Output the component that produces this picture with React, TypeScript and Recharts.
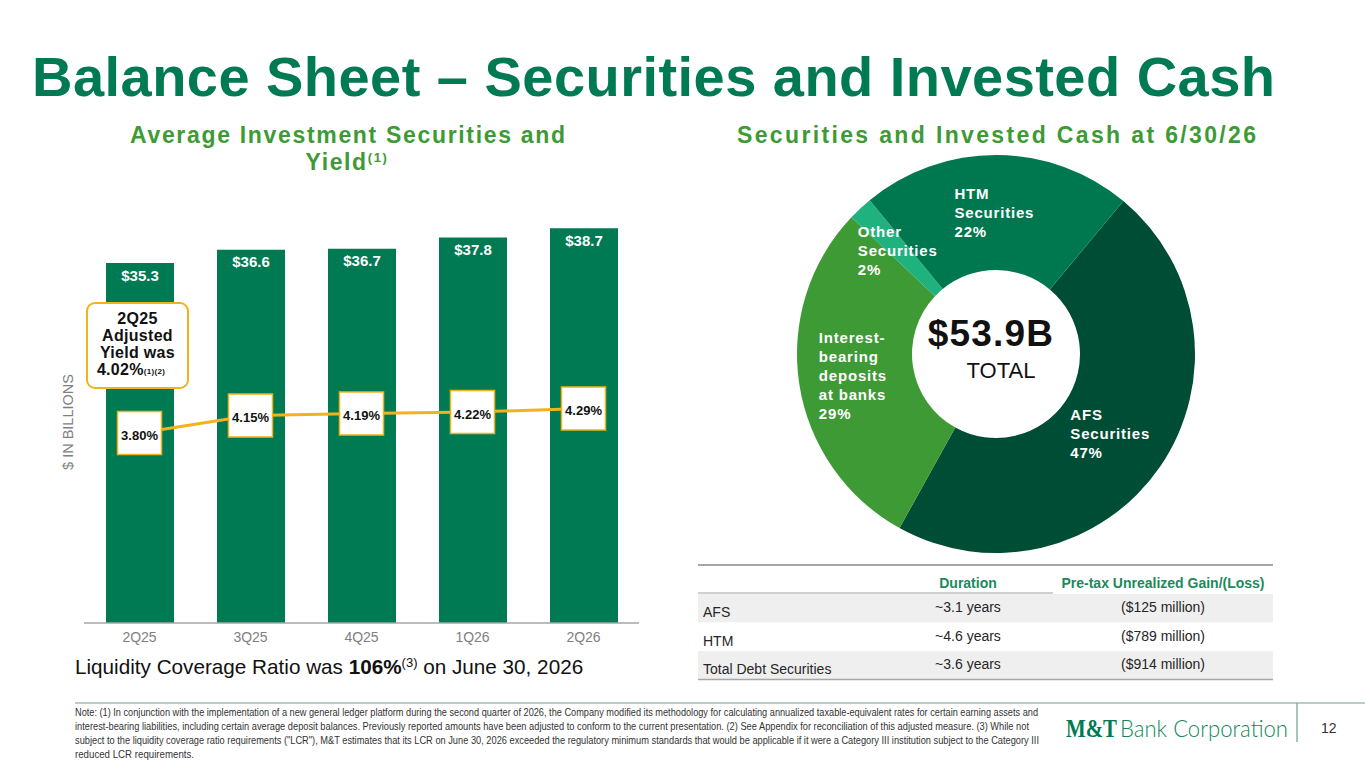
import React from 'react'
import {
  ComposedChart,
  Bar,
  Line,
  XAxis,
  YAxis,
  LabelList,
  PieChart,
  Pie,
  Cell,
} from 'recharts'

const quarters = ['2Q25', '3Q25', '4Q25', '1Q26', '2Q26']
const avgSecurities = [35.3, 36.6, 36.7, 37.8, 38.7]
const yieldPct = [3.8, 4.15, 4.19, 4.22, 4.29]

const mixNames = ['AFS Securities', 'Interest-bearing deposits at banks', 'Other Securities', 'HTM Securities']
const mixPct = [47, 29, 2, 22]
const mixLines = [['AFS', 'Securities'], ['Interest-', 'bearing', 'deposits', 'at banks'], ['Other', 'Securities'], ['HTM', 'Securities']]
const mixColors = ['#004d36', '#3e9a35', '#1fb27f', '#00784f']

const tableRows = ['AFS', 'HTM', 'Total Debt Securities']
const tableDuration = ['~3.1 years', '~4.6 years', '~3.6 years']
const tableGainLoss = ['($125 million)', '($789 million)', '($914 million)']

const footnotes = [
  'Note: (1) In conjunction with the implementation of a new general ledger platform during the second quarter of 2026, the Company modified its methodology for calculating annualized taxable-equivalent rates for certain earning assets and',
  'interest-bearing liabilities, including certain average deposit balances. Previously reported amounts have been adjusted to conform to the current presentation. (2) See Appendix for reconciliation of this adjusted measure. (3) While not',
  'subject to the liquidity coverage ratio requirements ("LCR"), M&T estimates that its LCR on June 30, 2026 exceeded the regulatory minimum standards that would be applicable if it were a Category III institution subject to the Category III',
  'reduced LCR requirements.',
]
const footnoteWidths = [963, 954, 964, 119]

const FONT = '"Liberation Sans", Arial, sans-serif'
const GREEN = '#007a53'
const SUB_GREEN = '#3e9a35'
const GOLD = '#f2b21b'
const NOTE_SQUEEZE = 0.8

const barData = quarters.map((q, i) => ({ q, value: avgSecurities[i], yld: yieldPct[i] }))
const mixData = mixNames.map((name, i) => ({ name, value: mixPct[i] }))

function YieldBox(props: any) {
  const { x, y, value } = props
  if (x == null || y == null) return null
  return (
    <g>
      <rect x={x - 22} y={y - 21.5} width={44} height={43} fill="#fff" stroke={GOLD} strokeWidth={1.5} />
      <text x={x} y={y + 6.5} textAnchor="middle" fontSize={13} fontWeight="bold" fill="#111" fontFamily={FONT}>
        {Number(value).toFixed(2)}%
      </text>
    </g>
  )
}

function MixLabel(props: any) {
  const { cx, cy, midAngle, index } = props
  const rad = Math.PI / 180
  const r = 141
  const x = cx + r * Math.cos(-midAngle * rad)
  const y = cy + r * Math.sin(-midAngle * rad)
  const lines = [...mixLines[index], `${mixPct[index]}%`]
  const w = Math.max(...lines.map(l => l.length)) * 8.4
  const lh = 19
  const top = y - ((lines.length - 1) * lh) / 2
  return (
    <text fill="#fff" fontSize={15} fontWeight="bold" letterSpacing={0.8} fontFamily={FONT}>
      {lines.map((l, i) => (
        <tspan key={i} x={x - w / 2} y={top + i * lh + 5}>{l}</tspan>
      ))}
    </text>
  )
}

export default function App() {
  return (
    <div style={{ position: 'absolute', left: 0, top: 0, width: 1365, height: 768, background: '#fff', overflow: 'hidden', fontFamily: FONT }}>
      <div style={{ position: 'absolute', left: 0, top: 0 }}>
        <ComposedChart width={700} height={680} data={barData} margin={{ top: 215, right: 61, bottom: 27, left: 84 }}>
          <XAxis
            dataKey="q"
            axisLine={{ stroke: '#a6a6a6', strokeWidth: 1.5 }}
            tickLine={false}
            tick={{ fontSize: 14, fill: '#7f7f7f', fontFamily: FONT }}
            tickMargin={3}
            height={30}
          />
          <YAxis yAxisId="left" hide domain={[0, 40]} />
          <YAxis yAxisId="right" hide orientation="right" domain={[0, 8.16]} />
          <Bar yAxisId="left" dataKey="value" fill={GREEN} barSize={68} isAnimationActive={false}>
            <LabelList
              dataKey="value"
              position="insideTop"
              offset={7}
              fill="#fff"
              fontSize={15}
              fontWeight="bold"
              fontFamily={FONT}
              formatter={(v: any) => `$${Number(v).toFixed(1)}`}
            />
          </Bar>
          <Line
            yAxisId="right"
            dataKey="yld"
            stroke={GOLD}
            strokeWidth={3}
            dot={false}
            isAnimationActive={false}
            label={<YieldBox />}
          />
        </ComposedChart>
      </div>

      <div style={{ position: 'absolute', left: 776, top: 134 }}>
        <PieChart width={440} height={440} margin={{ top: 0, right: 0, bottom: 0, left: 0 }}>
          <Pie
            data={mixData}
            dataKey="value"
            cx={220}
            cy={220}
            innerRadius={84}
            outerRadius={199}
            startAngle={50.2}
            endAngle={-309.8}
            stroke="none"
            labelLine={false}
            label={MixLabel}
            isAnimationActive={false}
          >
            {mixData.map((d, i) => (
              <Cell key={d.name} fill={mixColors[i]} />
            ))}
          </Pie>
        </PieChart>
      </div>

      <svg width={1365} height={768} style={{ position: 'absolute', left: 0, top: 0, pointerEvents: 'none' }} fontFamily={FONT}>
        {/* title */}
        <text x={32} y={96} fontSize={56} fontWeight="bold" fill={GREEN} textLength={1243} lengthAdjust="spacing">
          Balance Sheet – Securities and Invested Cash
        </text>
        <text x={130} y={143} fontSize={23} fontWeight="bold" fill={SUB_GREEN} textLength={435} lengthAdjust="spacing">
          Average Investment Securities and
        </text>
        <text x={347} y={170} fontSize={23} fontWeight="bold" fill={SUB_GREEN} textAnchor="middle" letterSpacing={1.6}>
          Yield<tspan fontSize={13} dy={-8}>(1)</tspan>
        </text>
        <text x={737} y={143} fontSize={23} fontWeight="bold" fill={SUB_GREEN} textLength={519} lengthAdjust="spacing">
          Securities and Invested Cash at 6/30/26
        </text>

        {/* y axis caption */}
        <text x={0} y={0} transform="translate(73 422) rotate(-90)" textAnchor="middle" fontSize={14.5} fill="#7f7f7f">
          $ IN BILLIONS
        </text>

        {/* callout */}
        <rect x={87} y={303} width={101} height={85} rx={8} fill="#fff" stroke={GOLD} strokeWidth={2} />
        <g fontSize={16} fontWeight="bold" fill="#111" textAnchor="middle" letterSpacing={0.3}>
          <text x={137.5} y={323.5}>2Q25</text>
          <text x={137.5} y={340.5}>Adjusted</text>
          <text x={137.5} y={357.5}>Yield was</text>
          <text x={131} y={374.5}>4.02%<tspan fontSize={8} dy={-1}>(1)(2)</tspan></text>
        </g>

        {/* donut centre */}
        <text x={991} y={346} textAnchor="middle" fontSize={37} fontWeight="bold" fill="#111" letterSpacing={1.2}>$53.9B</text>
        <text x={1001} y={378} textAnchor="middle" fontSize={22} fill="#111">TOTAL</text>

        {/* table */}
        <line x1={698} x2={1273} y1={565} y2={565} stroke="#a6a6a6" strokeWidth={2} />
        <text x={968} y={588} textAnchor="middle" fontSize={14} fontWeight="bold" fill="#1b8a5c">Duration</text>
        <text x={1163} y={588} textAnchor="middle" fontSize={14} fontWeight="bold" fill="#1b8a5c">Pre-tax Unrealized Gain/(Loss)</text>
        <line x1={698} x2={1053} y1={593} y2={593} stroke="#d0d0d0" strokeWidth={2} />
        {tableRows.map((r, i) => {
          const top = 594 + i * 28.5
          return (
            <g key={r}>
              <rect x={698} y={top} width={575} height={28.5} fill={i % 2 === 0 ? '#efefef' : '#fff'} />
              <text x={703} y={top + 23} fontSize={14} fill="#262626">{r}</text>
              <text x={968} y={top + 18} fontSize={14} fill="#262626" textAnchor="middle">{tableDuration[i]}</text>
              <text x={1163} y={top + 18} fontSize={14} fill="#262626" textAnchor="middle">{tableGainLoss[i]}</text>
            </g>
          )
        })}
        <line x1={698} x2={1273} y1={679.5} y2={679.5} stroke="#a6a6a6" strokeWidth={1.5} />

        {/* liquidity */}
        <text x={75} y={674} fontSize={20.7} fill="#111">
          Liquidity Coverage Ratio was <tspan fontWeight="bold">106%</tspan>
          <tspan fontSize={13} dy={-7}>(3)</tspan>
          <tspan dy={7}> on June 30, 2026</tspan>
        </text>

        {/* footnote */}
        <line x1={75} x2={1365} y1={703} y2={703} stroke="#6f9e89" strokeWidth={1.2} />
        <g transform={`translate(75 0) scale(${NOTE_SQUEEZE} 1)`}>
          {footnotes.map((f, i) => (
            <text key={i} x={0} y={716 + i * 14} fontSize={10.5} fill="#333" textLength={footnoteWidths[i] / NOTE_SQUEEZE} lengthAdjust="spacingAndGlyphs">
              {f}
            </text>
          ))}
        </g>

        {/* logo */}
        <g transform="translate(1066 737) scale(1 1.18)">
          <text x={0} y={0} fontSize={21} fontWeight="bold" fill={GREEN} fontFamily='"Liberation Serif", serif' textLength={51} lengthAdjust="spacingAndGlyphs">M&amp;T</text>
        </g>
        <text x={1120} y={737} fontSize={23} fontWeight={300} fill="#13875b" fontFamily='Lato, "Open Sans", sans-serif' textLength={168} lengthAdjust="spacingAndGlyphs">Bank Corporation</text>
        <line x1={1297} x2={1297} y1={703} y2={742} stroke="#6f9e89" strokeWidth={1.2} />
        <text x={1321} y={733} fontSize={14} fill="#333">12</text>
      </svg>
    </div>
  )
}
